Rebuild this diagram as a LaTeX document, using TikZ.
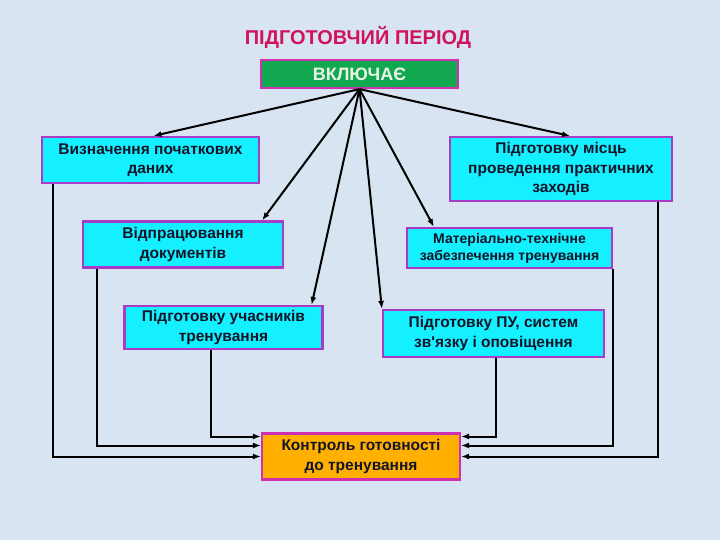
\documentclass[tikz,border=0pt]{standalone}
\usepackage{fontspec}
\setmainfont{Liberation Sans}
\usepackage{tikz}
\usetikzlibrary{arrows.meta,positioning,calc}
\definecolor{Crimson}{HTML}{D0145C}
\definecolor{Leaf}{HTML}{12A850}
\definecolor{Aqua}{HTML}{14F0FF}
\definecolor{Amber}{HTML}{FFB000}
\definecolor{Violet}{HTML}{A83CC8}
\definecolor{Magenta}{HTML}{D030B0}
\definecolor{Sky}{HTML}{D9E4F3}
\definecolor{Ink}{HTML}{141428}
\definecolor{PaleLeaf}{HTML}{EAF4E6}
\tikzset{
  cyanbox/.style={draw=Violet,line width=2.2pt,fill=Aqua,align=center,inner sep=2pt,
              text=Ink,font=\bfseries\fontsize{15.5}{19.5}\selectfont},
  greenbox/.style={draw=Magenta,line width=2.2pt,fill=Leaf,align=center,inner sep=2pt,
              text=PaleLeaf,font=\bfseries\fontsize{18}{20}\selectfont},
  orangebox/.style={draw=Magenta,line width=2.2pt,fill=Amber,align=center,inner sep=2pt,
              text=Ink,font=\bfseries\fontsize{15.5}{19.5}\selectfont},
  flow/.style={-{Latex[length=2.8mm,width=2.1mm]},line width=2pt,draw=black},
  headnote/.style={font=\bfseries\fontsize{20}{22}\selectfont,text=Crimson}
}
\begin{document}
\begin{tikzpicture}[x=1pt,y=-1pt]
  \fill[Sky] (0,0) rectangle (720,540);
  \node[headnote] (head) at (358,37) {ПІДГОТОВЧИЙ ПЕРІОД};
  \node[greenbox,minimum width=197pt,minimum height=28pt] (incl) at (359.5,74) {ВКЛЮЧАЄ};
  \node[cyanbox,minimum width=217pt,minimum height=46pt] (defn) at (150.5,160) {Визначення початкових\\даних};
  \node[cyanbox,minimum width=222pt,minimum height=64pt] (prep) at (561,169) {Підготовку місць\\проведення практичних\\заходів};
  \node[cyanbox,minimum width=200pt,minimum height=46pt] (docs) at (183,244.5) {Відпрацювання\\документів};
  \node[cyanbox,minimum width=205pt,minimum height=40pt,
        font=\bfseries\fontsize{14}{17}\selectfont] (mat) at (509.5,248) {Матеріально-технічне\\забезпечення тренування};
  \node[cyanbox,minimum width=198pt,minimum height=43pt] (part) at (223.5,327.5) {Підготовку учасників\\тренування};
  \node[cyanbox,minimum width=221pt,minimum height=47pt] (pu) at (493.5,333.5) {Підготовку ПУ, систем\\зв{\addfontfeatures{Ligatures=TeXOff}'}язку і оповіщення};
  \node[orangebox,minimum width=198pt,minimum height=46pt] (ctrl) at (361,456.5) {Контроль готовності\\до тренування};
  % from the top box
  \coordinate (hub) at (incl.south);
  \draw[flow] (hub) -- ([xshift=3pt]defn.north);
  \draw[flow] (hub) -- ([xshift=9pt]prep.north);
  \draw[flow] (hub) -- ([xshift=-22pt]docs.north east);
  \draw[flow] (hub) -- ([xshift=28pt]mat.north west);
  \draw[flow] (hub) -- ([xshift=-12pt]part.north east);
  \draw[flow] (hub) -- (pu.north west);
  % into the control box
  \draw[flow] ([xshift=12pt]defn.south west) |- (ctrl.west);
  \draw[flow] ([xshift=15pt]docs.south west) |- ([yshift=11pt]ctrl.west);
  \draw[flow] ([xshift=88pt]part.south west) |- ([yshift=20pt]ctrl.west);
  \draw[flow] ([xshift=-15pt]prep.south east) |- (ctrl.east);
  \draw[flow] (mat.south east) |- ([yshift=11pt]ctrl.east);
  \draw[flow] ([xshift=2pt]pu.south) |- ([yshift=20pt]ctrl.east);
\end{tikzpicture}
\end{document}
